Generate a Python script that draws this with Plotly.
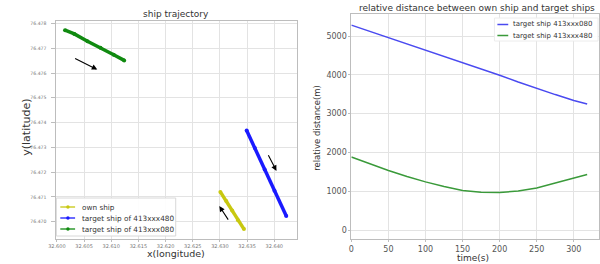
import plotly.graph_objects as go

# ---- left chart data (ship trajectories) ----
own_lon = [32.63008, 32.63116, 32.63225, 32.63333, 32.63442]
own_lat = [76.47120, 76.47083, 76.47045, 76.47006, 76.46970]
t480_lon = [32.63492, 32.63642, 32.63823, 32.64004, 32.64221]
t480_lat = [76.47368, 76.47297, 76.47211, 76.47125, 76.47023]
t080_lon = [32.60150, 32.60321, 32.60562, 32.60803, 32.61045, 32.61238]
t080_lat = [76.47773, 76.47758, 76.47728, 76.47702, 76.47674, 76.47651]
# direction arrows: (tail_lon, tail_lat, head_lon, head_lat)
arrows = [
    (32.60308, 76.47662, 32.60743, 76.47614),
    (32.63877, 76.47274, 32.64040, 76.47205),
    (32.63170, 76.47002, 32.62989, 76.47063),
]
lon_ticks = [32.600, 32.605, 32.610, 32.615, 32.620, 32.625, 32.630, 32.635, 32.640]
lat_ticks = [76.470, 76.471, 76.472, 76.473, 76.474, 76.475, 76.476, 76.477, 76.478]
left_names = ["own ship", "target ship of 413xxx480", "target ship of 413xxx080"]
left_colors = ["#c8c810", "#1a1aff", "#108a10"]

# ---- right chart data (relative distance) ----
time_s = [0, 25, 50, 75, 100, 125, 150, 175, 200, 225, 250, 275, 300, 318]
dist_080 = [5280, 5120, 4960, 4800, 4640, 4480, 4320, 4155, 3990, 3815, 3645, 3490, 3340, 3245]
dist_480 = [1880, 1700, 1535, 1380, 1240, 1120, 1020, 975, 965, 1005, 1085, 1210, 1340, 1430]
time_ticks = [0, 50, 100, 150, 200, 250, 300]
dist_ticks = [0, 1000, 2000, 3000, 4000, 5000]
right_names = ["target ship 413xxx080", "target ship 413xxx480"]
right_colors = ["#4a4af0", "#3a9a3a"]

FONT = "DejaVu Sans"
GRID = "#e3e3e3"
FRAME = "#bdbdbd"
W, H = 600, 264


def px(x):
    return x / W


def py(y):
    return 1 - y / H


fig = go.Figure()

for lon, lat, name, col in zip([own_lon, t480_lon, t080_lon], [own_lat, t480_lat, t080_lat],
                               left_names, left_colors):
    fig.add_trace(go.Scatter(x=lon, y=lat, mode="lines+markers", name=name,
                             line=dict(color=col, width=3.5), marker=dict(size=4, color=col),
                             xaxis="x", yaxis="y", showlegend=False))

for ys, name, col in zip([dist_080, dist_480], right_names, right_colors):
    fig.add_trace(go.Scatter(x=time_s, y=ys, mode="lines", name=name,
                             line=dict(color=col, width=1.5), xaxis="x2", yaxis="y2",
                             showlegend=False))

annotations = []
shapes = []
for (tx, ty, hx, hy) in arrows:
    annotations.append(dict(x=hx, y=hy, ax=tx, ay=ty, xref="x", yref="y", axref="x", ayref="y",
                            showarrow=True, arrowhead=2, arrowsize=1, arrowwidth=1.1,
                            arrowcolor="black", text=""))


def label(text, x, y, size, angle=0, anchor="center"):
    return dict(text=text, x=px(x), y=py(y), xref="paper", yref="paper", textangle=angle,
                showarrow=False, font=dict(size=size, color="#333", family=FONT),
                xanchor=anchor, yanchor="middle")


annotations += [
    label("ship trajectory", 170, 14, 9),
    label("x(longitude)", 170, 253, 9.5),
    label("y(latitude)", 18, 127, 11, -90),
    label("relative distance between own ship and target ships", 475, 8, 9),
    label("time(s)", 471, 258, 9),
    label("relative distance(m)", 313, 128, 8.5, -90),
]

# ---- manual legend, left chart ----
shapes.append(dict(type="rect", xref="paper", yref="paper", x0=px(49), x1=px(170), y0=py(236), y1=py(198),
                   line=dict(color="#d8d8d8", width=1), fillcolor="rgba(255,255,255,0.9)", layer="above"))
for i, (name, col) in enumerate(zip(left_names, left_colors)):
    yy = 207 + i * 11
    shapes.append(dict(type="line", xref="paper", yref="paper", x0=px(53), x1=px(68), y0=py(yy), y1=py(yy),
                       line=dict(color=col, width=1.3), layer="above"))
    shapes.append(dict(type="circle", xref="paper", yref="paper", x0=px(59), x1=px(62.5),
                       y0=py(yy + 1.75), y1=py(yy - 1.75), line=dict(color=col, width=0),
                       fillcolor=col, layer="above"))
    annotations.append(label(name, 73, yy, 7.3, anchor="left"))

# ---- manual legend, right chart ----
shapes.append(dict(type="rect", xref="paper", yref="paper", x0=px(493), x1=px(598), y0=py(41), y1=py(18),
                   line=dict(color="#ececec", width=1), fillcolor="rgba(255,255,255,0.9)", layer="above"))
for i, (name, col) in enumerate(zip(right_names, right_colors)):
    yy = 24.5 + i * 11
    shapes.append(dict(type="line", xref="paper", yref="paper", x0=px(496), x1=px(507), y0=py(yy), y1=py(yy),
                       line=dict(color=col, width=1.5), layer="above"))
    annotations.append(label(name, 510, yy, 7, anchor="left"))

axis_common = dict(showgrid=True, gridcolor=GRID, gridwidth=1, showline=True, linecolor=FRAME,
                   linewidth=1, mirror=True, zeroline=False, ticks="outside",
                   tickcolor=FRAME)

fig.update_layout(
    width=W, height=H, margin=dict(l=0, r=0, t=0, b=0),
    paper_bgcolor="white", plot_bgcolor="white",
    font=dict(family=FONT),
    xaxis=dict(domain=[px(49), px(293)], range=[32.5999, 32.6442], anchor="y",
               tickvals=lon_ticks, ticktext=[f"{v:.3f}" for v in lon_ticks], ticklen=2,
               tickfont=dict(size=5, color="#777"), **axis_common),
    yaxis=dict(domain=[py(239), py(21)], range=[76.4693, 76.4781], anchor="x",
               tickvals=lat_ticks, ticktext=[f"{v:.3f}" for v in lat_ticks], ticklen=4,
               ticklabelstandoff=4,
               tickfont=dict(size=4.6, color="#777"), **axis_common),
    xaxis2=dict(domain=[px(348), px(599)], range=[0, 334], anchor="y2",
                tickvals=time_ticks, ticklen=2,
                tickfont=dict(size=8, color="#555"), **axis_common),
    yaxis2=dict(domain=[py(239), py(14)], range=[-232, 5567], anchor="x2",
                tickvals=dist_ticks, ticklen=2,
                tickfont=dict(size=8, color="#555"), **axis_common),
    annotations=annotations,
    shapes=shapes,
    showlegend=False,
)

fig.write_html("out.html", config={"displayModeBar": False},
               post_script="document.body.style.margin='0';document.body.style.overflow='hidden';")
